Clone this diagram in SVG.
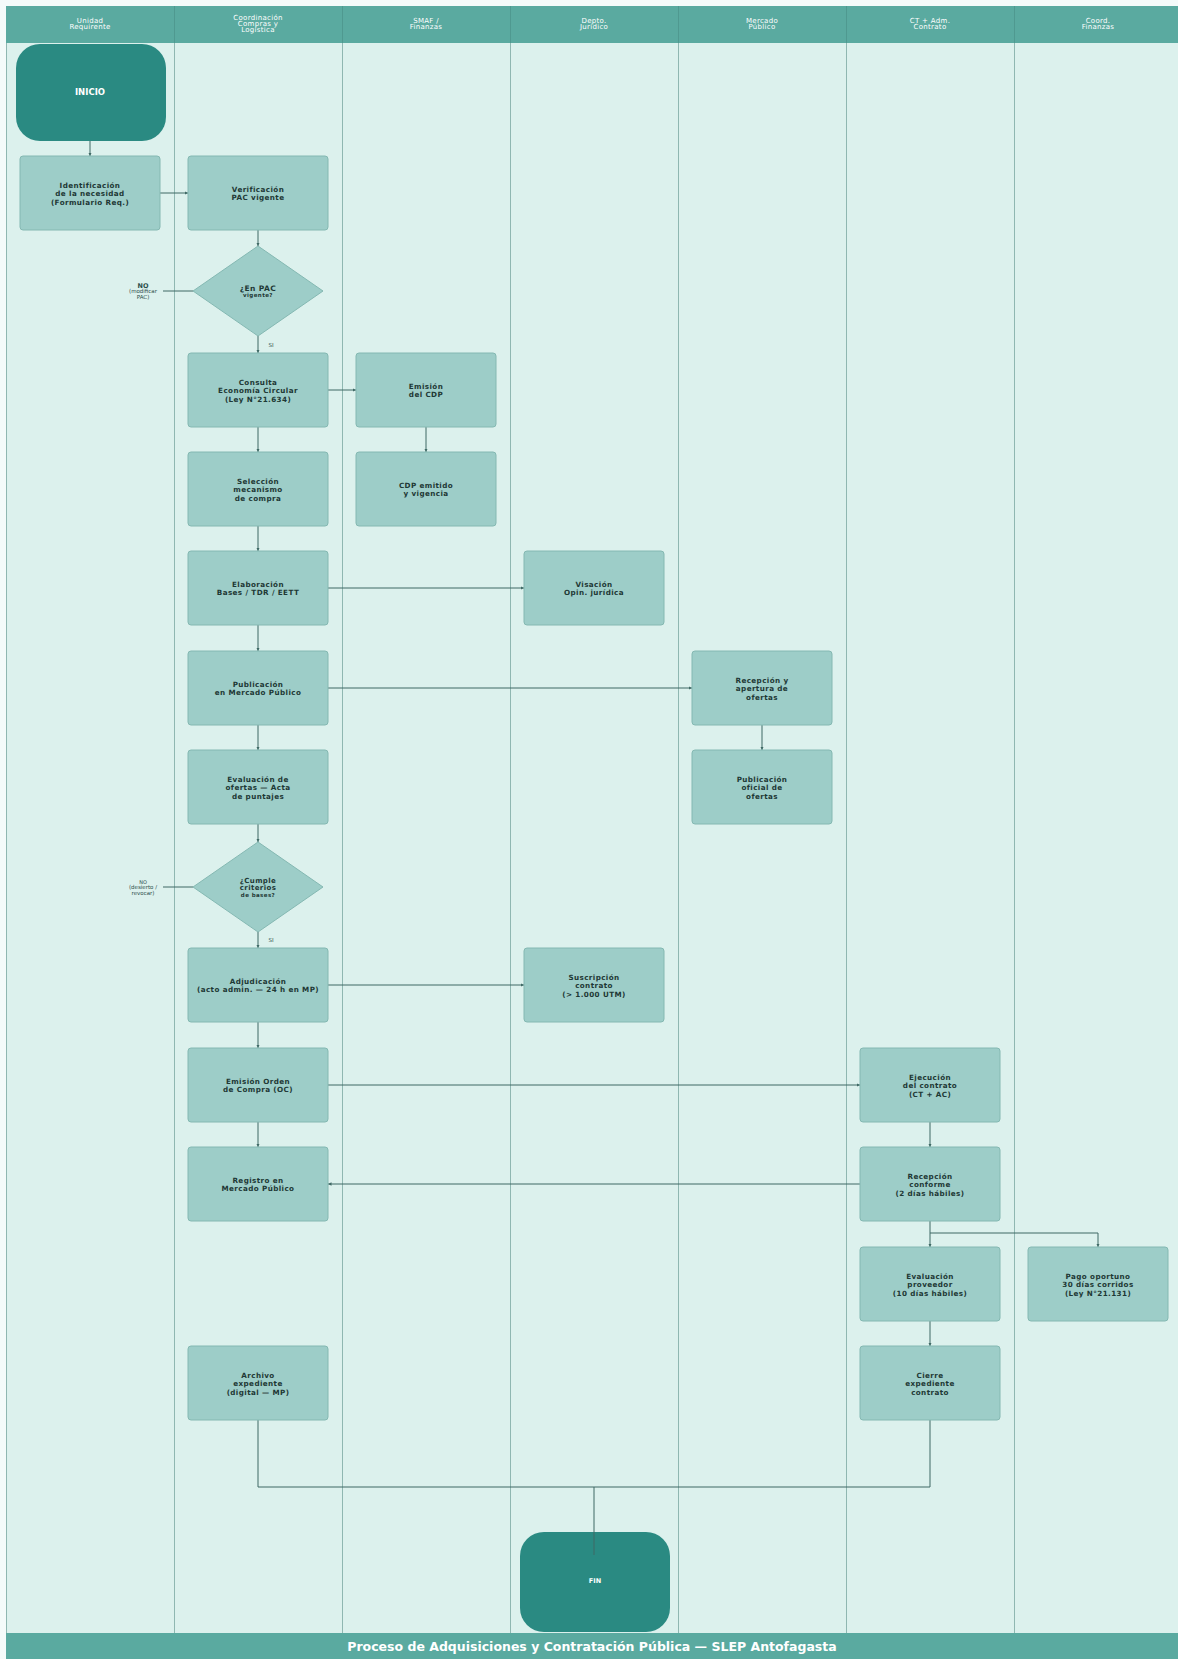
<svg xmlns="http://www.w3.org/2000/svg" width="1178" height="1659" viewBox="0 0 1178 1659">
<style>
.lane{fill:#dcf1ed}
.div{stroke:#8fb7b1;stroke-width:1}
.hdr{fill:#5aaaa0}
.ht{font-family:"DejaVu Sans",sans-serif;font-size:7px;letter-spacing:0.3px;fill:#ffffff;text-anchor:middle;dominant-baseline:central}
.nd{fill:#9dcdc8;stroke:#84b8b2;stroke-width:1}
.term{fill:#2a8a82}
.t{font-family:"DejaVu Sans",sans-serif;font-size:7.2px;letter-spacing:0.4px;font-weight:bold;fill:#1e3835;text-anchor:middle;dominant-baseline:central}
.tw{font-family:"DejaVu Sans",sans-serif;font-weight:bold;fill:#ffffff;text-anchor:middle;dominant-baseline:central}
.lbl{font-family:"DejaVu Sans",sans-serif;font-size:5.5px;fill:#2c4f4b;text-anchor:middle;dominant-baseline:central}
.c{fill:none;stroke:#3f6965;stroke-width:1}
.ft{font-family:"DejaVu Sans",sans-serif;font-size:12.5px;font-weight:bold;fill:#ffffff;text-anchor:middle;dominant-baseline:central}
</style>
<defs>
<marker id="ah" viewBox="0 0 6 6" refX="6" refY="3" markerWidth="3.5" markerHeight="3.5" orient="auto" markerUnits="userSpaceOnUse"><path d="M0,0 L6,3 L0,6 z" fill="#3f6965"/></marker>
</defs>
<rect x="0" y="0" width="1178" height="1659" fill="#f4fbfa"/>
<g id="lanes">
<rect class="lane" x="6" y="43" width="1172" height="1590"/>
<line class="div" x1="6.5" y1="43" x2="6.5" y2="1633"/>
<line class="div" x1="174.5" y1="43" x2="174.5" y2="1633"/>
<line class="div" x1="342.5" y1="43" x2="342.5" y2="1633"/>
<line class="div" x1="510.5" y1="43" x2="510.5" y2="1633"/>
<line class="div" x1="678.5" y1="43" x2="678.5" y2="1633"/>
<line class="div" x1="846.5" y1="43" x2="846.5" y2="1633"/>
<line class="div" x1="1014.5" y1="43" x2="1014.5" y2="1633"/>
</g>
<g id="header">
<rect class="hdr" x="6" y="6" width="1172" height="37"/>
<line x1="174.5" y1="6" x2="174.5" y2="43" stroke="#4f9990" stroke-width="1"/>
<line x1="342.5" y1="6" x2="342.5" y2="43" stroke="#4f9990" stroke-width="1"/>
<line x1="510.5" y1="6" x2="510.5" y2="43" stroke="#4f9990" stroke-width="1"/>
<line x1="678.5" y1="6" x2="678.5" y2="43" stroke="#4f9990" stroke-width="1"/>
<line x1="846.5" y1="6" x2="846.5" y2="43" stroke="#4f9990" stroke-width="1"/>
<line x1="1014.5" y1="6" x2="1014.5" y2="43" stroke="#4f9990" stroke-width="1"/>
<text class="ht" x="90"><tspan x="90" y="20.5">Unidad</tspan><tspan x="90" y="27">Requirente</tspan></text>
<text class="ht" x="258"><tspan x="258" y="17.5">Coordinación</tspan><tspan x="258" y="23.5">Compras y</tspan><tspan x="258" y="29.5">Logística</tspan></text>
<text class="ht" x="426"><tspan x="426" y="20.5">SMAF /</tspan><tspan x="426" y="27">Finanzas</tspan></text>
<text class="ht" x="594"><tspan x="594" y="20.5">Depto.</tspan><tspan x="594" y="27">Jurídico</tspan></text>
<text class="ht" x="762"><tspan x="762" y="20.5">Mercado</tspan><tspan x="762" y="27">Público</tspan></text>
<text class="ht" x="930"><tspan x="930" y="20.5">CT + Adm.</tspan><tspan x="930" y="27">Contrato</tspan></text>
<text class="ht" x="1098"><tspan x="1098" y="20.5">Coord.</tspan><tspan x="1098" y="27">Finanzas</tspan></text>
</g>
<g id="connectors">
<line class="c" x1="90" y1="141" x2="90" y2="156" marker-end="url(#ah)"/>
<line class="c" x1="160" y1="193" x2="188" y2="193" marker-end="url(#ah)"/>
<line class="c" x1="258" y1="230" x2="258" y2="246" marker-end="url(#ah)"/>
<line class="c" x1="163" y1="291" x2="193" y2="291"/>
<line class="c" x1="258" y1="336" x2="258" y2="353" marker-end="url(#ah)"/>
<line class="c" x1="328" y1="390" x2="356" y2="390" marker-end="url(#ah)"/>
<line class="c" x1="258" y1="427" x2="258" y2="452" marker-end="url(#ah)"/>
<line class="c" x1="426" y1="427" x2="426" y2="452" marker-end="url(#ah)"/>
<line class="c" x1="258" y1="526" x2="258" y2="551" marker-end="url(#ah)"/>
<line class="c" x1="328" y1="588" x2="524" y2="588" marker-end="url(#ah)"/>
<line class="c" x1="258" y1="625" x2="258" y2="651" marker-end="url(#ah)"/>
<line class="c" x1="328" y1="688" x2="692" y2="688" marker-end="url(#ah)"/>
<line class="c" x1="762" y1="725" x2="762" y2="750" marker-end="url(#ah)" stroke-width="1.6"/>
<line class="c" x1="258" y1="725" x2="258" y2="750" marker-end="url(#ah)"/>
<line class="c" x1="258" y1="824" x2="258" y2="842" marker-end="url(#ah)"/>
<line class="c" x1="163" y1="887" x2="193" y2="887"/>
<line class="c" x1="258" y1="932" x2="258" y2="948" marker-end="url(#ah)"/>
<line class="c" x1="328" y1="985" x2="524" y2="985" marker-end="url(#ah)"/>
<line class="c" x1="258" y1="1022" x2="258" y2="1048" marker-end="url(#ah)"/>
<line class="c" x1="328" y1="1085" x2="860" y2="1085" marker-end="url(#ah)"/>
<line class="c" x1="258" y1="1122" x2="258" y2="1147" marker-end="url(#ah)"/>
<line class="c" x1="930" y1="1122" x2="930" y2="1147" marker-end="url(#ah)"/>
<line class="c" x1="860" y1="1184" x2="328" y2="1184" marker-end="url(#ah)"/>
<line class="c" x1="930" y1="1221" x2="930" y2="1247" marker-end="url(#ah)"/>
<polyline class="c" points="930,1233 1098,1233 1098,1247" marker-end="url(#ah)"/>
<line class="c" x1="930" y1="1321" x2="930" y2="1346" marker-end="url(#ah)"/>
<polyline class="c" points="258,1420 258,1487 930,1487 930,1420"/>
</g>
<g id="n_inicio"><rect class="term" x="16" y="44" width="150" height="97" rx="24"/><text class="tw" x="90" y="92" font-size="8.5">INICIO</text></g>
<g id="n_identificacion"><rect class="nd" x="20" y="156" width="140" height="74" rx="3"/><text class="t"><tspan x="90" y="184.5">Identificación</tspan><tspan x="90" y="193">de la necesidad</tspan><tspan x="90" y="201.5">(Formulario Req.)</tspan></text></g>
<g id="n_verificacion"><rect class="nd" x="188" y="156" width="140" height="74" rx="3"/><text class="t"><tspan x="258" y="188.75">Verificación</tspan><tspan x="258" y="197.25">PAC vigente</tspan></text></g>
<g id="d_pac"><polygon class="nd" points="258,246 323,291 258,336 193,291"/><text class="t"><tspan x="258" y="288" font-size="7.5">¿En PAC</tspan><tspan x="258" y="295" font-size="5.5">vigente?</tspan></text></g>
<g id="l_no1"><text class="lbl"><tspan x="143" y="285.5" font-weight="bold" font-size="6.5">NO</tspan><tspan x="143" y="291">(modificar</tspan><tspan x="143" y="296.5">PAC)</tspan></text></g>
<g id="l_si1"><text class="lbl" x="271" y="345">SI</text></g>
<g id="n_consulta"><rect class="nd" x="188" y="353" width="140" height="74" rx="3"/><text class="t"><tspan x="258" y="381.5">Consulta</tspan><tspan x="258" y="390">Economía Circular</tspan><tspan x="258" y="398.5">(Ley N°21.634)</tspan></text></g>
<g id="n_cdp"><rect class="nd" x="356" y="353" width="140" height="74" rx="3"/><text class="t"><tspan x="426" y="385.75">Emisión</tspan><tspan x="426" y="394.25">del CDP</tspan></text></g>
<g id="n_seleccion"><rect class="nd" x="188" y="452" width="140" height="74" rx="3"/><text class="t"><tspan x="258" y="480.5">Selección</tspan><tspan x="258" y="489">mecanismo</tspan><tspan x="258" y="497.5">de compra</tspan></text></g>
<g id="n_cdp_vigencia"><rect class="nd" x="356" y="452" width="140" height="74" rx="3"/><text class="t"><tspan x="426" y="484.75">CDP emitido</tspan><tspan x="426" y="493.25">y vigencia</tspan></text></g>
<g id="n_elaboracion"><rect class="nd" x="188" y="551" width="140" height="74" rx="3"/><text class="t"><tspan x="258" y="583.75">Elaboración</tspan><tspan x="258" y="592.25">Bases / TDR / EETT</tspan></text></g>
<g id="n_visacion"><rect class="nd" x="524" y="551" width="140" height="74" rx="3"/><text class="t"><tspan x="594" y="583.75">Visación</tspan><tspan x="594" y="592.25">Opin. jurídica</tspan></text></g>
<g id="n_publicacion"><rect class="nd" x="188" y="651" width="140" height="74" rx="3"/><text class="t"><tspan x="258" y="683.75">Publicación</tspan><tspan x="258" y="692.25">en Mercado Público</tspan></text></g>
<g id="n_recepcion_ofertas"><rect class="nd" x="692" y="651" width="140" height="74" rx="3"/><text class="t"><tspan x="762" y="679.5">Recepción y</tspan><tspan x="762" y="688">apertura de</tspan><tspan x="762" y="696.5">ofertas</tspan></text></g>
<g id="n_evaluacion"><rect class="nd" x="188" y="750" width="140" height="74" rx="3"/><text class="t"><tspan x="258" y="778.5">Evaluación de</tspan><tspan x="258" y="787">ofertas — Acta</tspan><tspan x="258" y="795.5">de puntajes</tspan></text></g>
<g id="n_pub_oficial"><rect class="nd" x="692" y="750" width="140" height="74" rx="3"/><text class="t"><tspan x="762" y="778.5">Publicación</tspan><tspan x="762" y="787">oficial de</tspan><tspan x="762" y="795.5">ofertas</tspan></text></g>
<g id="d_cumple"><polygon class="nd" points="258,842 323,887 258,932 193,887"/><text class="t"><tspan x="258" y="880.5" font-size="7">¿Cumple</tspan><tspan x="258" y="887.5" font-size="7">criterios</tspan><tspan x="258" y="894.5" font-size="5.5">de bases?</tspan></text></g>
<g id="l_no2"><text class="lbl"><tspan x="143" y="881.5" font-size="5">NO</tspan><tspan x="143" y="887">(desierto /</tspan><tspan x="143" y="892.5">revocar)</tspan></text></g>
<g id="l_si2"><text class="lbl" x="271" y="940">SI</text></g>
<g id="n_adjudicacion"><rect class="nd" x="188" y="948" width="140" height="74" rx="3"/><text class="t"><tspan x="258" y="980.75">Adjudicación</tspan><tspan x="258" y="989.25">(acto admin. — 24 h en MP)</tspan></text></g>
<g id="n_suscripcion"><rect class="nd" x="524" y="948" width="140" height="74" rx="3"/><text class="t"><tspan x="594" y="976.5">Suscripción</tspan><tspan x="594" y="985">contrato</tspan><tspan x="594" y="993.5">(&gt; 1.000 UTM)</tspan></text></g>
<g id="n_oc"><rect class="nd" x="188" y="1048" width="140" height="74" rx="3"/><text class="t"><tspan x="258" y="1080.75">Emisión Orden</tspan><tspan x="258" y="1089.25">de Compra (OC)</tspan></text></g>
<g id="n_ejecucion"><rect class="nd" x="860" y="1048" width="140" height="74" rx="3"/><text class="t"><tspan x="930" y="1076.5">Ejecución</tspan><tspan x="930" y="1085">del contrato</tspan><tspan x="930" y="1093.5">(CT + AC)</tspan></text></g>
<g id="n_registro"><rect class="nd" x="188" y="1147" width="140" height="74" rx="3"/><text class="t"><tspan x="258" y="1179.75">Registro en</tspan><tspan x="258" y="1188.25">Mercado Público</tspan></text></g>
<g id="n_recepcion_conforme"><rect class="nd" x="860" y="1147" width="140" height="74" rx="3"/><text class="t"><tspan x="930" y="1175.5">Recepción</tspan><tspan x="930" y="1184">conforme</tspan><tspan x="930" y="1192.5">(2 días hábiles)</tspan></text></g>
<g id="n_eval_proveedor"><rect class="nd" x="860" y="1247" width="140" height="74" rx="3"/><text class="t"><tspan x="930" y="1275.5">Evaluación</tspan><tspan x="930" y="1284">proveedor</tspan><tspan x="930" y="1292.5">(10 días hábiles)</tspan></text></g>
<g id="n_pago"><rect class="nd" x="1028" y="1247" width="140" height="74" rx="3"/><text class="t"><tspan x="1098" y="1275.5">Pago oportuno</tspan><tspan x="1098" y="1284">30 días corridos</tspan><tspan x="1098" y="1292.5">(Ley N°21.131)</tspan></text></g>
<g id="n_archivo"><rect class="nd" x="188" y="1346" width="140" height="74" rx="3"/><text class="t"><tspan x="258" y="1374.5">Archivo</tspan><tspan x="258" y="1383">expediente</tspan><tspan x="258" y="1391.5">(digital — MP)</tspan></text></g>
<g id="n_cierre"><rect class="nd" x="860" y="1346" width="140" height="74" rx="3"/><text class="t"><tspan x="930" y="1374.5">Cierre</tspan><tspan x="930" y="1383">expediente</tspan><tspan x="930" y="1391.5">contrato</tspan></text></g>
<g id="n_fin"><rect class="term" x="520" y="1532" width="150" height="100" rx="24"/><text class="tw" x="595" y="1581" font-size="6.5">FIN</text></g>
<g id="connector_fin"><line class="c" x1="594" y1="1487" x2="594" y2="1555"/></g>
<g id="footer"><rect class="hdr" x="6" y="1633" width="1172" height="26"/><text class="ft" x="592" y="1646">Proceso de Adquisiciones y Contratación Pública  —  SLEP Antofagasta</text></g>
</svg>
